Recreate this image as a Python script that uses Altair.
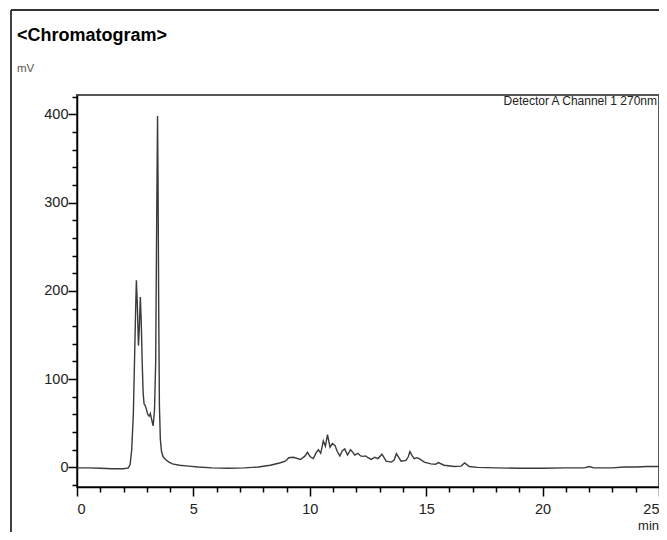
import altair as alt
import pandas as pd

# ---- data ----
times = [0.0, 0.5, 1.0, 1.5, 2.0, 2.2, 2.28, 2.35, 2.42, 2.47, 2.52, 2.55, 2.59, 2.64, 2.68,
         2.72, 2.76, 2.80, 2.84, 2.88, 2.93, 2.98, 3.04, 3.10, 3.15, 3.20, 3.27, 3.33, 3.38,
         3.42, 3.46, 3.48, 3.51, 3.54, 3.58, 3.63, 3.70, 3.80, 3.95, 4.1, 4.4, 4.8, 5.2, 5.8,
         6.5, 7.2, 7.8, 8.3, 8.7, 8.95, 9.1, 9.3, 9.6, 9.8, 9.9, 10.02, 10.15, 10.28, 10.37,
         10.47, 10.58, 10.67, 10.76, 10.87, 10.97, 11.08, 11.18, 11.29, 11.4, 11.5, 11.62,
         11.75, 11.85, 11.93, 12.07, 12.18, 12.29, 12.4, 12.5, 12.64, 12.79, 12.93, 13.1,
         13.28, 13.49, 13.62, 13.72, 13.92, 14.13, 14.23, 14.3, 14.4, 14.49, 14.6, 14.7,
         14.92, 15.2, 15.4, 15.52, 15.77, 16.2, 16.5, 16.65, 16.85, 17.2, 18.0, 19.0, 20.0,
         21.0, 21.8, 22.0, 22.2, 23.0, 23.5, 24.0, 24.5, 25.0]
signal = [-0.5, -0.5, -1, -1.5, -1.5, -0.5, 3, 20, 60, 120, 180, 212, 185, 138, 160,
          193, 165, 120, 85, 72, 70, 66, 60, 58, 61, 55, 47, 65, 120,
          270, 398, 330, 180, 70, 32, 18, 12, 9, 6, 4, 2.5, 1.5, 0.5, -0.5,
          -1, -0.5, 0.5, 2.5, 5, 7, 11, 11.5, 9, 13, 17, 12, 10, 17, 20,
          16, 30, 24, 37, 23, 27, 25, 18, 13, 19, 21, 14,
          20, 17, 14, 16, 13, 12.5, 13, 11, 9, 11.5, 10, 15,
          7, 6, 8, 15.5, 7, 8, 12, 18, 13, 10, 11, 10,
          6, 4, 3.5, 5.5, 2.5, 1, 1.5, 5, 1, 0, -0.5, -1, -1,
          -0.5, -0.5, 1, -0.5, -0.5, 0.5, 0.5, 1, 1]

x_ticks = list(range(0, 26))
y_ticks = list(range(-20, 421, 20))

title_text = ["<Chromatogram>"]
unit_text = ["mV"]
detector_text = ["Detector A Channel 1 270nm"]
xunit_text = ["min"]

W, H = 582, 392
FONT = "Liberation Sans, Arial, sans-serif"

df = pd.DataFrame({"t": times, "mV": signal})

x_scale = alt.Scale(domain=[0, 25], nice=False, zero=False)
y_scale = alt.Scale(domain=[-22.2, 421.9], nice=False, zero=False)

line = alt.Chart(df).mark_line(color="#3a3a3a", strokeWidth=1.4).encode(
    x=alt.X("t:Q", scale=x_scale,
            axis=alt.Axis(values=x_ticks, title=None,
                          labelExpr="datum.value % 5 === 0 ? datum.label : ''",
                          tickSize={"expr": "datum.value % 5 === 0 ? 9 : 5"},
                          labelPadding=6)),
    y=alt.Y("mV:Q", scale=y_scale,
            axis=alt.Axis(values=y_ticks, title=None,
                          labelExpr="datum.value % 100 === 0 ? datum.label : ''",
                          tickSize={"expr": "datum.value % 100 === 0 ? 9 : 5"},
                          labelPadding=0)),
)

title = alt.Chart(pd.DataFrame({"txt": title_text})).mark_text(
    font=FONT, fontSize=18, fontWeight="bold", color="black", align="left", baseline="alphabetic"
).encode(text="txt:N", x=alt.value(-60), y=alt.value(-54))

unit = alt.Chart(pd.DataFrame({"txt": unit_text})).mark_text(
    font=FONT, fontSize=11.5, color="#555", align="left", baseline="alphabetic"
).encode(text="txt:N", x=alt.value(-60), y=alt.value(-23))

detector = alt.Chart(pd.DataFrame({"txt": detector_text})).mark_text(
    font=FONT, fontSize=12, color="#222", align="right", baseline="alphabetic"
).encode(text="txt:N", x=alt.value(W - 2), y=alt.value(10))

xunit = alt.Chart(pd.DataFrame({"txt": xunit_text})).mark_text(
    font=FONT, fontSize=13, color="#222", align="right", baseline="alphabetic"
).encode(text="txt:N", x=alt.value(W), y=alt.value(435))

border_left = alt.Chart(pd.DataFrame({"txt": title_text})).mark_rule(
    color="black", strokeWidth=1.5
).encode(x=alt.value(-66), y=alt.value(-85), y2=alt.value(450))

border_top = alt.Chart(pd.DataFrame({"txt": title_text})).mark_rule(
    color="#333", strokeWidth=2
).encode(x=alt.value(-66), x2=alt.value(W), y=alt.value(-85))

chart = alt.layer(line, title, unit, detector, xunit, border_left, border_top).properties(
    width=W, height=H,
    autosize=alt.AutoSizeParams(type="none"),
    padding={"left": 69, "top": 87, "right": 0, "bottom": 45},
).configure_view(
    stroke="#555", strokeWidth=2
).configure_axis(
    domainColor="black", domainWidth=1.5, tickColor="black", tickWidth=1.5,
    labelFont=FONT, labelFontSize=14.5, labelColor="#222", grid=False
)

chart.save("out.html", embed_options={"renderer": "svg", "actions": False})
